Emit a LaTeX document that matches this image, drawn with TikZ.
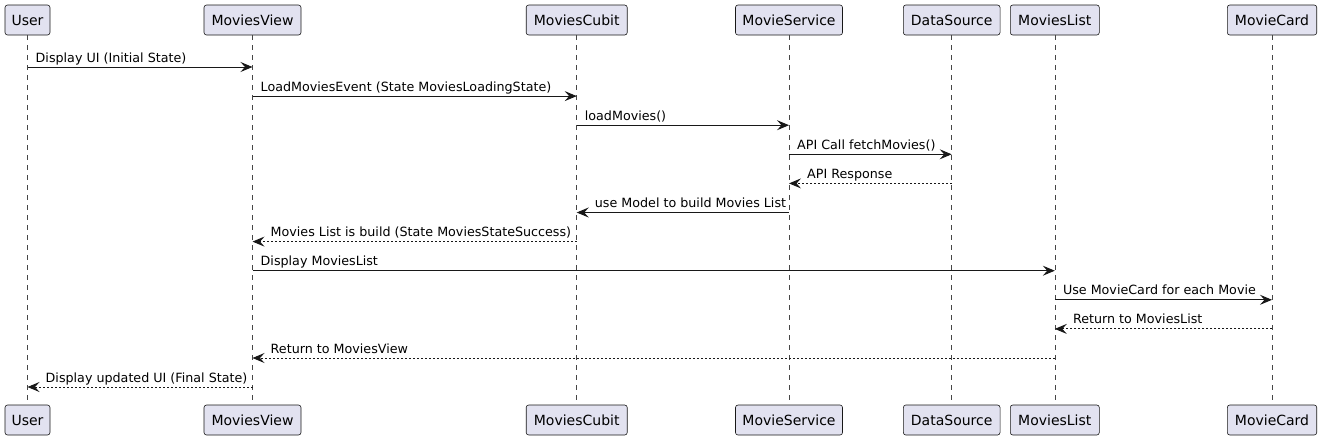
\documentclass[tikz,border=0pt]{standalone}
\usepackage{fontspec}
\setmainfont{DejaVu Sans}
\usetikzlibrary{arrows.meta}
\definecolor{partfill}{HTML}{E2E2F0}
\definecolor{partline}{HTML}{181818}
\tikzset{
  part/.style={draw=partline, fill=partfill, rounded corners=2.5pt, line width=0.6pt,
    minimum height=30pt, inner sep=0pt, font=\fontsize{14}{16}\selectfont},
  life/.style={draw=partline!80, line width=0.5pt, dash pattern=on 5pt off 5pt},
  msgsolid/.style={draw=partline, line width=0.9pt, -{Stealth[length=12pt,width=10pt,inset=4.5pt]}},
  msgdash/.style={draw=partline, line width=0.9pt, dash pattern=on 2pt off 2pt, -{Stealth[length=12pt,width=10pt,inset=4.5pt]}},
  lbl/.style={font=\fontsize{12.7}{15}\selectfont, inner sep=0pt, anchor=base west}
}
\newcommand{\msgR}[5]{%
  \draw[#1] (#2T.center |- 0,#4) -- (#3T.center |- 0,#4);
  \node[lbl] at ([xshift=8pt,yshift=5pt]#2T.center |- 0,#4) {#5};}
\newcommand{\msgL}[5]{%
  \draw[#1] (#2T.center |- 0,#4) -- (#3T.center |- 0,#4);
  \node[lbl] at ([xshift=18pt,yshift=5pt]#3T.center |- 0,#4) {#5};}
\begin{document}
\begin{tikzpicture}[x=1pt,y=-1pt]
\useasboundingbox (0,0) rectangle (1321,440);
% participants top
\node[part, minimum width=45pt]   (UT) at (27.5,20) {User};
\node[part, minimum width=97pt]   (VT) at (252.5,20) {MoviesView};
\node[part, minimum width=101pt]  (CT) at (576.7,20) {MoviesCubit};
\node[part, minimum width=107pt]  (ST) at (789,20) {MovieService};
\node[part, minimum width=96.7pt] (DT) at (951.7,20) {DataSource};
\node[part, minimum width=89pt]   (LT) at (1054.8,20) {MoviesList};
\node[part, minimum width=89.4pt] (MT) at (1272,20) {MovieCard};
% participants bottom
\node[part, minimum width=45pt]   (UB) at (27.5,420) {User};
\node[part, minimum width=97pt]   (VB) at (252.5,420) {MoviesView};
\node[part, minimum width=101pt]  (CB) at (576.7,420) {MoviesCubit};
\node[part, minimum width=107pt]  (SB) at (789,420) {MovieService};
\node[part, minimum width=96.7pt] (DB) at (951.7,420) {DataSource};
\node[part, minimum width=89pt]   (LB) at (1054.8,420) {MoviesList};
\node[part, minimum width=89.4pt] (MB) at (1272,420) {MovieCard};
% lifelines
\foreach \p in {U,V,C,S,D,L,M}{
  \draw[life] (\p T.south) -- (\p B.north);
}
% messages
\msgR{msgsolid}{U}{V}{67}{Display UI (Initial State)}
\msgR{msgsolid}{V}{C}{96.1}{LoadMoviesEvent (State MoviesLoadingState)}
\msgR{msgsolid}{C}{S}{125.2}{loadMovies()}
\msgR{msgsolid}{S}{D}{154.3}{API Call fetchMovies()}
\msgL{msgdash}{D}{S}{183.4}{API Response}
\msgL{msgsolid}{S}{C}{212.5}{use Model to build Movies List}
\msgL{msgdash}{C}{V}{241.6}{Movies List is build (State MoviesStateSuccess)}
\msgR{msgsolid}{V}{L}{270.7}{Display MoviesList}
\msgR{msgsolid}{L}{M}{299.8}{Use MovieCard for each Movie}
\msgL{msgdash}{M}{L}{328.9}{Return to MoviesList}
\msgL{msgdash}{L}{V}{358}{Return to MoviesView}
\msgL{msgdash}{V}{U}{387}{Display updated UI (Final State)}
\end{tikzpicture}
\end{document}
